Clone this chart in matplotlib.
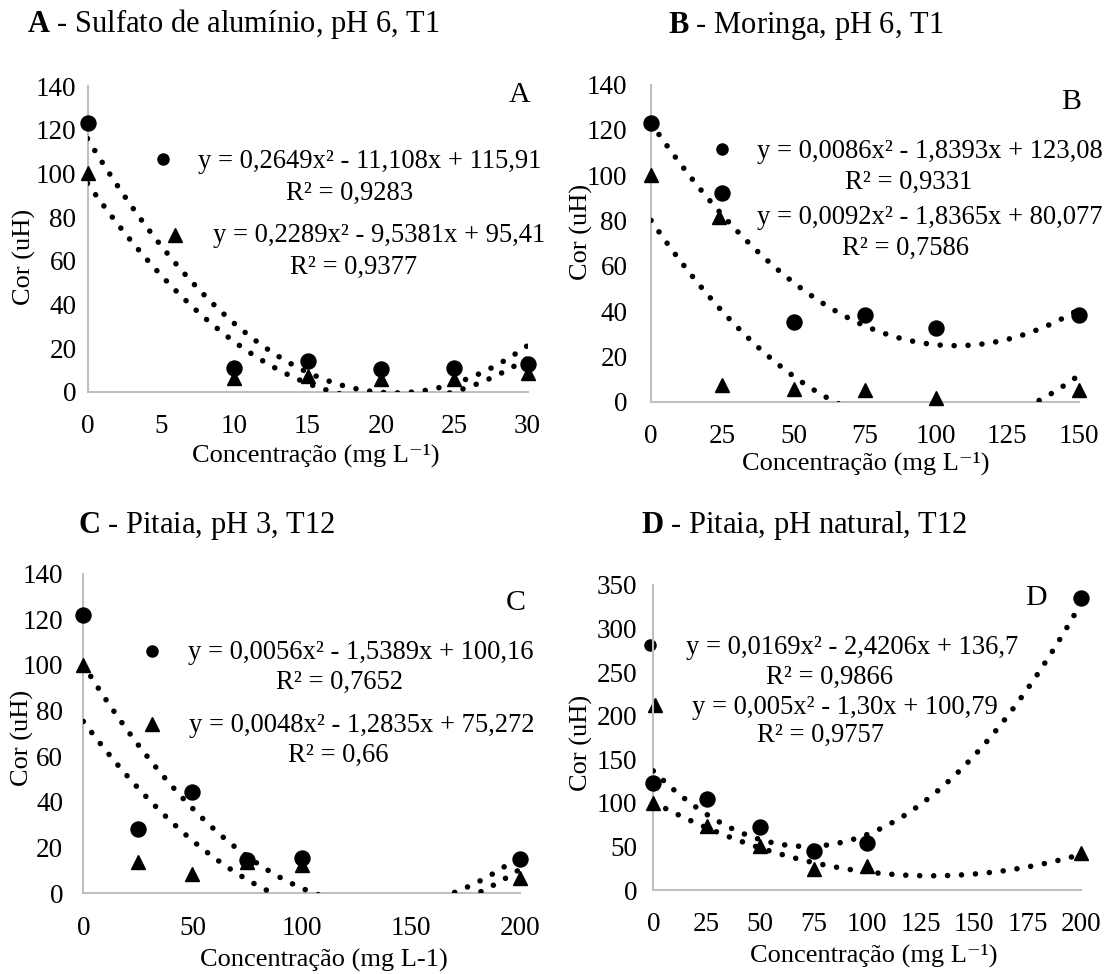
import numpy as np
import matplotlib
matplotlib.use("Agg")
import matplotlib.pyplot as plt

W, H = 1108, 974
plt.rcParams['font.family'] = ['Liberation Serif', 'DejaVu Serif']
plt.rcParams['mathtext.fontset'] = 'custom'
plt.rcParams['mathtext.rm'] = 'Liberation Serif'
plt.rcParams['mathtext.it'] = 'Liberation Serif:italic'
plt.rcParams['mathtext.bf'] = 'Liberation Serif:bold'

# ---------------- data ----------------
a_x = [0, 10, 15, 20, 25, 30]
a_circ = [123, 11, 14, 10.5, 11, 12.5]
a_tri = [100, 6.5, 7, 6, 6, 8.5]
a_fit_circ = [0.2649, -11.108, 115.91]
a_fit_tri = [0.2289, -9.5381, 95.41]
a_eq = ["y = 0,2649x² - 11,108x + 115,91", "R² = 0,9283",
        "y = 0,2289x² - 9,5381x + 95,41", "R² = 0,9377"]
a_xticks = [0, 5, 10, 15, 20, 25, 30]
a_yticks = [0, 20, 40, 60, 80, 100, 120, 140]

b_x = [0, 25, 50, 75, 100, 150]
b_circ = [123, 92, 35, 38.5, 32.5, 38.5]
b_tri = [100, 7.5, 5.5, 5, 1.5, 5]
b_fit_circ = [0.0086, -1.8393, 123.08]
b_fit_tri = [0.0092, -1.8365, 80.077]
b_eq = ["y = 0,0086x² - 1,8393x + 123,08", "R² = 0,9331",
        "y = 0,0092x² - 1,8365x + 80,077", "R² = 0,7586"]
b_xticks = [0, 25, 50, 75, 100, 125, 150]
b_yticks = [0, 20, 40, 60, 80, 100, 120, 140]

c_x = [0, 25, 50, 75, 100, 200]
c_circ = [122, 28, 44.5, 14.5, 15.5, 15]
c_tri = [100, 13.5, 8.5, 13.5, 12.5, 6.5]
c_fit_circ = [0.0056, -1.5389, 100.16]
c_fit_tri = [0.0048, -1.2835, 75.272]
c_eq = ["y = 0,0056x² - 1,5389x + 100,16", "R² = 0,7652",
        "y = 0,0048x² - 1,2835x + 75,272", "R² = 0,66"]
c_xticks = [0, 50, 100, 150, 200]
c_yticks = [0, 20, 40, 60, 80, 100, 120, 140]

d_x = [0, 25, 50, 75, 100, 200]
d_circ = [123, 104, 72, 45, 54, 335]
d_tri = [100, 74, 50, 24, 28, 43]
d_fit_circ = [0.0169, -2.4206, 136.7]
d_fit_tri = [0.005, -1.30, 100.79]
d_eq = ["y = 0,0169x² - 2,4206x + 136,7", "R² = 0,9866",
        "y = 0,005x² - 1,30x + 100,79", "R² = 0,9757"]
d_xticks = [0, 25, 50, 75, 100, 125, 150, 175, 200]
d_yticks = [0, 50, 100, 150, 200, 250, 300, 350]

titles = [r"$\mathbf{A}$ - Sulfato de alumínio, pH 6, T1",
          r"$\mathbf{B}$ - Moringa, pH 6, T1",
          r"$\mathbf{C}$ - Pitaia, pH 3, T12",
          r"$\mathbf{D}$ - Pitaia, pH natural, T12"]
letters = ["A", "B", "C", "D"]
xlabels = ["Concentração (mg L⁻¹)", "Concentração (mg L⁻¹)",
           "Concentração (mg L-1)", "Concentração (mg L⁻¹)"]
ylabel = "Cor (uH)"

# ---------------- layout (pixel positions) ----------------
layout = [
    dict(rect=(87.5, 86, 527.5, 391.7), xlim=(0, 30), ylim=(0, 140),
         title=(26.8, 32), letter=(519.6, 95),
         lc=(162.5, 159.3), e1=(198.2, 159), r1=(350, 191),
         lt=(175, 235), e2=(213.2, 234), r2=(353.6, 265),
         yl=(24, 256.7), xl=(316, 453), ypad=8),
    dict(rect=(651, 84.7, 1078.7, 401.7), xlim=(0, 150), ylim=(0, 140),
         title=(668.4, 33), letter=(1071, 101.7),
         lc=(721.8, 149.3), e1=(757.5, 149.3), r1=(908.7, 180),
         lt=(719, 216.7), e2=(757.5, 216), r2=(906, 246),
         yl=(581.7, 231.7), xl=(865.8, 461.7), ypad=17),
    dict(rect=(83.3, 573.6, 520, 893.3), xlim=(0, 200), ylim=(0, 140),
         title=(77.9, 533), letter=(516, 603.3),
         lc=(151.8, 650.7), e1=(187.5, 650.7), r1=(339.3, 680),
         lt=(151.8, 724), e2=(189.3, 723.3), r2=(338.4, 753.3),
         yl=(22, 738), xl=(324, 958), ypad=14.5),
    dict(rect=(653.3, 585, 1080.8, 890), xlim=(0, 200), ylim=(0, 350),
         title=(641, 533), letter=(1036, 598),
         lc=(650.2, 645), e1=(685.8, 646), r1=(830, 675),
         lt=(655, 705), e2=(692, 705), r2=(820.4, 733.3),
         yl=(581.7, 743), xl=(873.7, 953), ypad=11.5),
]

series = [
    (a_x, a_circ, a_tri, a_fit_circ, a_fit_tri, a_eq, a_xticks, a_yticks),
    (b_x, b_circ, b_tri, b_fit_circ, b_fit_tri, b_eq, b_xticks, b_yticks),
    (c_x, c_circ, c_tri, c_fit_circ, c_fit_tri, c_eq, c_xticks, c_yticks),
    (d_x, d_circ, d_tri, d_fit_circ, d_fit_tri, d_eq, d_xticks, d_yticks),
]

TICK_FS = 19.5
EQ_FS = 19.2
LAB_FS = 19
TFS = 22
LET_FS = 21.5
AXC = '#bfbfbf'


def fp(x, y):
    return x / W, 1 - y / H


fig = plt.figure(figsize=(W / 100, H / 100), dpi=100)

for i, (lay, ser) in enumerate(zip(layout, series)):
    xs, circ, tri, fc, ft, eq, xt, yt = ser
    l, t, r, b = lay['rect']
    ax = fig.add_axes([l / W, 1 - b / H, (r - l) / W, (b - t) / H])
    ax.set_xlim(*lay['xlim'])
    ax.set_ylim(*lay['ylim'])
    ax.set_xticks(xt)
    ax.set_yticks(yt)
    ax.set_xticklabels([str(v) for v in xt])
    ax.set_yticklabels([str(v) for v in yt])
    for s in ['top', 'right']:
        ax.spines[s].set_visible(False)
    for s in ['left', 'bottom']:
        ax.spines[s].set_color(AXC)
        ax.spines[s].set_linewidth(1.5)
    ax.tick_params(axis='x', length=0, labelsize=TICK_FS, pad=16)
    ax.tick_params(axis='y', length=0, labelsize=TICK_FS, pad=lay['ypad'])
    ax.patch.set_alpha(0)

    # data markers
    ax.plot(xs, circ, 'o', color='black', ms=10.8, clip_on=False, zorder=3)
    ax.plot(xs, tri, '^', color='black', ms=10, clip_on=False, zorder=3)

    # trendlines from the displayed equations
    xx = np.linspace(min(xs), max(xs), 600)
    for coef in (fc, ft):
        ax.plot(xx, np.polyval(coef, xx), color='black', lw=4,
                linestyle=(0, (0.01, 2.5)), dash_capstyle='round', zorder=4)

    # legend keys + equation text
    x0, y0 = fp(*lay['lc'])
    ax.plot([x0], [y0], 'o', color='black', ms=8, transform=fig.transFigure,
            clip_on=False)
    x0, y0 = fp(*lay['lt'])
    ax.plot([x0], [y0], '^', color='black', ms=10, transform=fig.transFigure,
            clip_on=False)
    ex, ey = lay['e1']
    fig.text(*fp(ex, ey + 2), eq[0], fontsize=EQ_FS, ha='left', va='center')
    ex, ey = lay['r1']
    fig.text(*fp(ex, ey + 2), eq[1], fontsize=EQ_FS, ha='center', va='center')
    ex, ey = lay['e2']
    fig.text(*fp(ex, ey + 2), eq[2], fontsize=EQ_FS, ha='left', va='center')
    ex, ey = lay['r2']
    fig.text(*fp(ex, ey + 2), eq[3], fontsize=EQ_FS, ha='center', va='center')

    # panel letter and title
    fig.text(*fp(*lay['letter']), letters[i], fontsize=LET_FS, ha='center',
             va='center')
    fig.text(*fp(*lay['title']), titles[i], fontsize=TFS, ha='left',
             va='baseline')

    # axis labels
    ax.set_ylabel(ylabel, fontsize=LAB_FS, va='center')
    ax.yaxis.set_label_coords(*fp(*lay['yl']), transform=fig.transFigure)
    ax.set_xlabel(xlabels[i], fontsize=LAB_FS, va='center')
    ax.xaxis.set_label_coords(*fp(lay['xl'][0], lay['xl'][1] + 2),
                              transform=fig.transFigure)

fig.savefig("out.png", dpi=100, facecolor='white')
